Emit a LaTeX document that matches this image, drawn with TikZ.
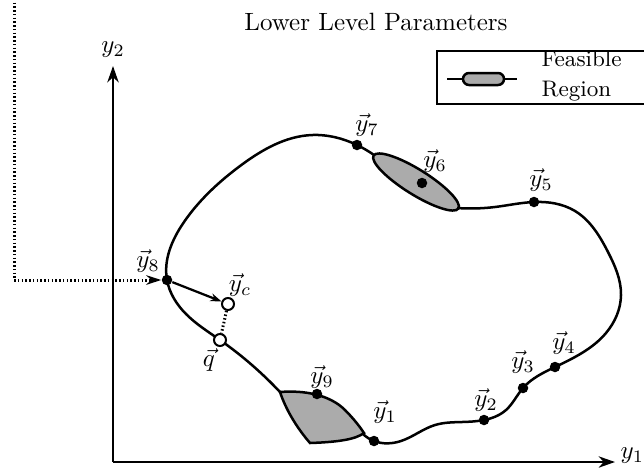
\documentclass[tikz,border=0pt]{standalone}
\usetikzlibrary{arrows.meta,hobby}
\begin{document}
\begin{tikzpicture}[x=0.4pt,y=-0.4pt,
  curve/.style={line width=1pt,use Hobby shortcut},
  axis/.style={line width=1pt,-{Stealth[length=6.5pt,width=4.5pt,inset=2pt]}},
  dot/.style={circle,fill=black,inner sep=0pt,minimum size=4.2pt},
  odot/.style={circle,draw=black,fill=white,line width=0.8pt,inner sep=0pt,minimum size=4.8pt},
  region/.style={draw=black,fill=black!33,line width=1pt},
  dots/.style={line width=1.2pt,dash pattern=on 0.6pt off 0.9pt},
  lbl/.style={inner sep=0pt}]
\useasboundingbox (0,0) rectangle (644,467);

% title
\node[lbl] (title) at (376,22) {Lower Level Parameters};

% legend
\draw[line width=0.8pt] (437,51) rectangle (700,104);
\coordinate (la) at (447,79);
\coordinate (lb) at (517,79);
\draw[line width=1pt] (la) -- (lb);
\draw[region,rounded corners=2.4pt] (463,73) rectangle (504,85);
\node[lbl,anchor=west,align=left,font=\small] (legtext) at (541,76) {Feasible\\[1pt]Region};

% axes
\coordinate (O) at (113,462);
\coordinate (ytop) at (113,66);
\coordinate (xend) at (615,462);
\draw[axis] (O) -- (ytop);
\draw[axis] (O) -- (xend);
\node[lbl] (y2lab) at (113,50) {$y_2$};
\node[lbl,anchor=west] (y1lab) at (620,456) {$y_1$};

% feasible region 6
\draw[region,rotate around={-32:(416,182)}] (416,182) ellipse [x radius=50, y radius=12.5];

% feasible region 9
\draw[region] (280,392) .. controls (305,390) and (330,395) .. (345,410)
  .. controls (354,419) and (360,427) .. (364,433)
  .. controls (356,439) and (340,442) .. (310,443)
  .. controls (297,428) and (286,410) .. cycle;

% main curve
\draw[curve] (280,392) .. (220,340) .. (186,314) .. (167,280) .. (184,222)
  .. (240,166) .. (312,135) .. (357,145) .. (374,155);
\draw[curve] (457,208) .. (495,207) .. (534,202) .. (575,211) .. (608,252)
  .. (621,295) .. (606,333) .. (555,367) .. (523,388)
  .. (506,410) .. (484,420) .. (462,422) .. (435,425) .. (401,441) .. (374,441)
  .. (363,434);

% points
\node[dot] (y1) at (374,441) {};
\node[dot] (y2) at (484,420) {};
\node[dot] (y3) at (523,388) {};
\node[dot] (y4) at (555,367) {};
\node[dot] (y5) at (534,202) {};
\node[dot] (y6) at (422,183) {};
\node[dot] (y7) at (357,145) {};
\node[dot] (y8) at (167,280) {};
\node[dot] (y9) at (317,394) {};
\node[odot] (yc) at (228,304) {};
\node[odot] (q) at (220,340) {};

% labels
\node[lbl] (l1) at (385,412) {$\vec{y}_1$};
\node[lbl] (l2) at (486,400) {$\vec{y}_2$};
\node[lbl] (l3) at (523,362) {$\vec{y}_3$};
\node[lbl] (l4) at (564,343) {$\vec{y}_4$};
\node[lbl] (l5) at (541,180) {$\vec{y}_5$};
\node[lbl] (l6) at (435,161) {$\vec{y}_6$};
\node[lbl] (l7) at (367,125) {$\vec{y}_7$};
\node[lbl] (l8) at (148,261) {$\vec{y}_8$};
\node[lbl] (l9) at (322,377) {$\vec{y}_9$};
\node[lbl] (lc) at (240,285) {$\vec{y}_c$};
\node[lbl] (lq) at (209,360) {$\vec{q}$};

% connectors
\draw[line width=0.9pt,-{Stealth[length=4.5pt,width=3.2pt,inset=1.5pt]}] (y8) -- (yc);
\draw[dots] (yc) -- (q);
\coordinate (dtop) at (14,-5);
\coordinate (dcorner) at (14,280);
\draw[dots,-{Stealth[length=6pt,width=3.8pt,inset=2pt]}] (dtop) -- (dcorner) -- (y8);
\end{tikzpicture}
\end{document}
